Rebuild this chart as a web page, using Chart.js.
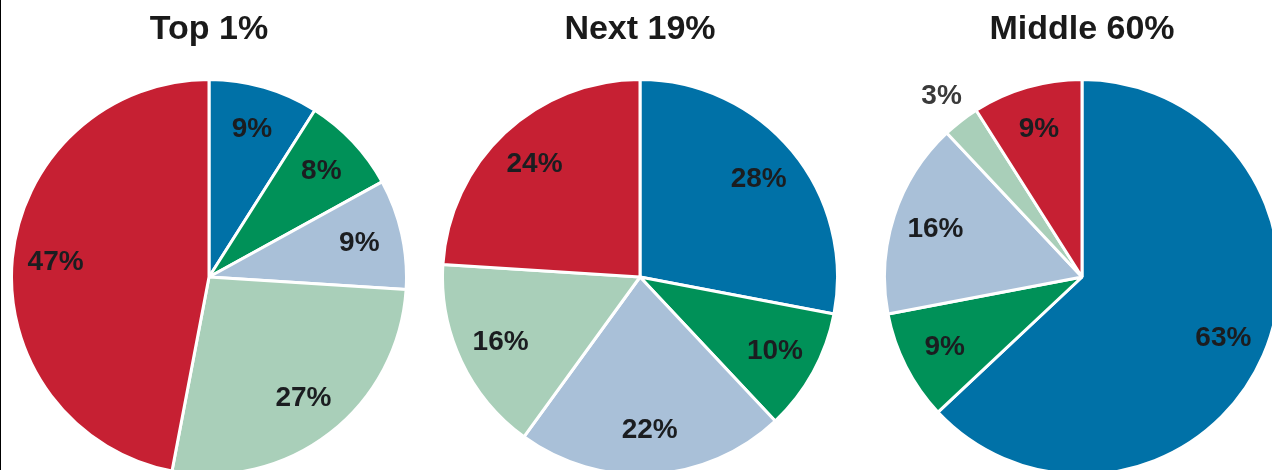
<!DOCTYPE html>
<html>
<head>
<meta charset="utf-8">
<script src="https://cdn.jsdelivr.net/npm/chart.js@4/dist/chart.umd.min.js"></script>
<style>
  html, body { margin: 0; padding: 0; background: #fff; overflow: hidden; }
  body { width: 1272px; height: 470px; position: relative; }
  .edge { position: absolute; left: 0; top: 0; width: 1px; height: 470px; background: #000; }
  .box { position: absolute; top: 0; width: 398px; height: 476px; }
</style>
</head>
<body>
<div class="edge"></div>
<div class="box" style="left:10px"><canvas id="pie1"></canvas></div>
<div class="box" style="left:441px"><canvas id="pie2"></canvas></div>
<div class="box" style="left:883px"><canvas id="pie3"></canvas></div>
<script>
// slices go clockwise from 12 o'clock
const categories = ['Slice 1', 'Slice 2', 'Slice 3', 'Slice 4', 'Slice 5'];
const titles = ['Top 1%', 'Next 19%', 'Middle 60%'];
const top1 = [9, 8, 9, 27, 47];
const next19 = [28, 10, 22, 16, 24];
const middle60 = [63, 9, 16, 3, 9];
const sliceColors = ['#0071a7', '#009158', '#a9c0d8', '#a9cfb9', '#c62033'];

const fontFamily = '"Liberation Sans", Arial, sans-serif';

// draws the % labels; tiny slices get their label outside
const pctLabels = {
    id: 'pctLabels',
    afterDatasetsDraw(chart) {
        const c = chart.ctx;
        const data = chart.data.datasets[0].data;
        c.save();
        c.textAlign = 'center';
        c.textBaseline = 'middle';
        chart.getDatasetMeta(0).data.forEach(function (arc, i) {
            const p = arc.getProps(['x', 'y', 'startAngle', 'endAngle', 'outerRadius'], true);
            const mid = (p.startAngle + p.endAngle) / 2;
            const small = data[i] < 5;
            const r = p.outerRadius * (small ? 1.16 : 0.78);
            c.font = 'bold 28px ' + fontFamily;
            c.fillStyle = small ? '#3a3a3a' : '#1b1d20';
            c.fillText(data[i] + '%', p.x + Math.cos(mid) * r, p.y + Math.sin(mid) * r);
        });
        c.restore();
    }
};

function makePie(id, title, values) {
    return new Chart(document.getElementById(id), {
        type: 'pie',
        data: {
            labels: categories,
            datasets: [{
                data: values,
                backgroundColor: sliceColors,
                borderColor: '#ffffff',
                borderWidth: 3
            }]
        },
        options: {
            responsive: true,
            maintainAspectRatio: false,
            animation: false,
            layout: { padding: 0 },
            plugins: {
                legend: { display: false },
                tooltip: { enabled: false },
                title: {
                    display: true,
                    text: title,
                    color: '#1a1a1a',
                    font: { family: fontFamily, size: 34, weight: 'bold', lineHeight: 1.2 },
                    padding: { top: 9.6, bottom: 27.6 }
                }
            }
        },
        plugins: [pctLabels]
    });
}

makePie('pie1', titles[0], top1);
makePie('pie2', titles[1], next19);
makePie('pie3', titles[2], middle60);
</script>
</body>
</html>
